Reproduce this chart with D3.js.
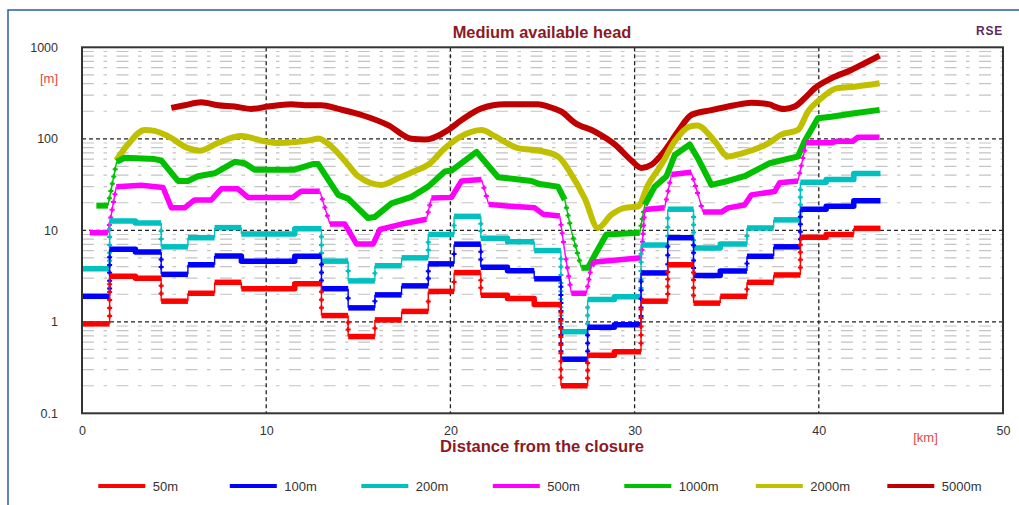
<!DOCTYPE html>
<html><head><meta charset="utf-8">
<script src="https://cdn.jsdelivr.net/npm/d3@7"></script>
<style>
body{margin:0;background:#fff;}
svg{display:block;font-family:"Liberation Sans",Arial,sans-serif;}
</style></head><body>
<svg id="c" width="1019" height="505"></svg>
<script>
// ---------------- DATA ----------------
const seriesNames = ["50m","100m","200m","500m","1000m","2000m","5000m"];
const seriesColors = ["#ff0000","#0000ff","#00c0c0","#ff00ff","#00c000","#c0c000","#c00000"];

// step series: segment edges (km) and one value per segment (m)
const stepEdges = [0,1.5,2.9,4.3,5.75,7.2,8.65,10.1,11.55,13.0,14.45,15.9,17.35,18.8,20.2,21.65,23.1,24.55,26.0,27.45,28.9,30.35,31.8,33.2,34.65,36.1,37.55,39.0,40.4,41.9,43.35];
const head50  = [0.95,3.15,3.0,1.68,2.05,2.7,2.3,2.3,2.6,1.17,0.69,1.05,1.3,2.15,3.45,1.95,1.8,1.55,0.2,0.43,0.47,1.68,4.2,1.6,1.9,2.7,3.25,8.4,9.0,10.5];
const head100 = [1.9,6.2,5.8,3.3,4.2,5.25,4.6,4.6,5.2,2.3,1.42,1.97,2.47,4.3,7.05,3.95,3.62,2.95,0.39,0.87,0.93,3.42,8.3,3.2,3.6,5.2,6.6,17.0,18.3,21.0];
const head200 = [3.8,12.6,12.0,6.6,8.3,10.7,9.1,9.1,10.4,4.6,2.8,4.1,5.0,9.0,14.2,8.2,7.5,6.0,0.78,1.75,1.88,6.9,17.0,6.4,7.1,10.6,13.0,33.6,36.0,41.7];

// smooth series: [km, m]
const head500 = [[0.42,9.4],[1.41,9.4],[1.86,30],[3.22,31],[4.4,29.4],[4.85,17.6],[5.57,17.6],[6.11,21.5],[7.02,21.5],[7.56,28.4],[8.46,28.4],[9.01,22.9],[11.45,22.9],[11.9,26.8],[12.91,26.8],[13.46,11.7],[14.27,11.7],[14.9,7.1],[15.81,7.1],[16.17,10.2],[17.35,11.7],[18.7,13.2],[18.97,22.5],[20.06,22.9],[20.6,34.6],[21.69,36],[22.08,19.2],[22.95,18.5],[24.58,17.6],[25.03,15],[25.94,14.3],[26.2,6],[26.57,2.05],[27.38,2.05],[27.66,4.1],[27.84,4.5],[30.37,5.0],[30.55,16.9],[31.63,17.6],[32.0,40.7],[33.08,43],[33.53,21.5],[33.71,15.8],[34.71,15.8],[35.07,17.6],[35.97,18.9],[36.34,24.4],[37.6,26.5],[37.87,33],[38.87,34.6],[39.32,90.4],[40.68,90.4],[40.95,94],[41.85,94],[42.12,104],[43.3,104]];
const head1000 = [[0.78,18.6],[1.41,18.6],[1.88,56],[2.32,62],[3.94,60],[4.3,58],[5.21,34.6],[5.75,34.6],[6.29,39],[7.2,42],[8.29,56],[8.83,54],[9.37,46],[11.54,46],[12.53,53],[12.82,53],[13.91,24.4],[14.45,22.2],[15.53,13.6],[15.9,14],[16.8,19.7],[17.89,23.2],[18.79,30],[19.7,44],[20.06,45],[21.42,72],[22.59,38],[24.4,34.6],[24.85,32],[25.84,30],[26.21,21.5],[26.57,9.8],[27.11,3.9],[27.47,3.9],[27.93,5.8],[28.47,9.0],[30.28,9.4],[30.55,18.9],[31.09,30],[31.73,39],[32.18,66.5],[32.99,86.6],[33.44,61],[34.17,31.3],[35.07,34.6],[35.97,39],[37.33,54],[37.96,58],[38.87,64],[39.23,94],[39.95,168],[40.68,174],[41.94,190],[43.3,207]];
const head2000 = [[1.86,58],[2.5,87],[3.4,125],[3.94,122],[4.67,107],[5.75,79],[6.39,74],[7.38,90],[8.64,107],[9.91,94],[10.63,90],[11.54,92],[12.53,98],[12.82,101],[13.55,82],[14.45,52],[14.99,39],[16.26,31.3],[17.16,37],[18.07,44.5],[18.79,52],[19.7,79],[20.6,107],[21.69,125],[22.41,107],[23.67,79],[24.85,74],[25.84,64],[26.57,40.7],[27.29,22.4],[28.01,10.6],[28.74,14.8],[29.46,17.6],[30.18,18.2],[30.73,31.3],[31.45,52],[32.18,94],[32.99,136],[33.4,140],[34.35,94],[35.07,64],[35.79,69],[37.33,91],[37.96,111],[38.87,125],[39.41,198],[40.14,277],[40.95,356],[41.94,371],[43.3,404]];
const head5000 = [[4.85,218],[5.57,233],[6.47,251],[7.38,233],[8.29,225],[9.19,212],[10.09,225],[11.36,238],[12.1,233],[13.0,233],[13.91,212],[15.18,182],[16.62,141],[17.89,100],[18.61,98],[19.88,125],[20.6,160],[21.69,215],[22.95,238],[24.76,238],[25.3,225],[26.03,198],[26.75,150],[27.84,120],[28.92,87],[29.83,58],[30.37,48],[30.91,52],[31.63,74],[32.35,120],[33.08,182],[34.17,206],[35.43,233],[36.34,248],[37.33,238],[37.6,225],[38.14,212],[38.69,225],[39.23,277],[39.77,356],[40.68,458],[41.76,565],[42.49,670],[43.3,810]];

const yTickValues = [0.1,1,10,100,1000];
const yTickLabels = ["0.1","1","10","100","1000"];
const xTickValues = [0,10,20,30,40,50];
const xTickLabels = ["0","10","20","30","40","50"];

// ---------------- CHART ----------------
const svg = d3.select("#c");
const L = 82, R = 1003, T = 47.3, B = 413.3;
const x = d3.scaleLinear().domain([0,50]).range([L,R]);
const y = d3.scaleLog().domain([0.1,1000]).range([B,T]);

// outer blue frame
svg.append("path").attr("d","M8,506 L8,10 L1020,10").attr("fill","none")
  .attr("stroke","#2a5ca8").attr("stroke-width",1.5);

// minor grid
const minor = [];
[0.1,1,10,100].forEach(d => { for (let k=2;k<=9;k++) minor.push(d*k); });
svg.append("g").selectAll("line").data(minor).join("line")
  .attr("x1",L).attr("x2",R).attr("y1",d=>y(d)).attr("y2",d=>y(d))
  .attr("stroke","#c4c4c4").attr("stroke-width",1.2)
  .attr("stroke-dasharray","12,9.5,3.5,9.5");

// major grid
svg.append("g").selectAll("line").data([1,10,100]).join("line")
  .attr("x1",L).attr("x2",R).attr("y1",d=>y(d)).attr("y2",d=>y(d))
  .attr("stroke","#222").attr("stroke-width",1.3).attr("stroke-dasharray","4,3");
svg.append("g").selectAll("line").data([10,20,30,40]).join("line")
  .attr("y1",T).attr("y2",B).attr("x1",d=>x(d)).attr("x2",d=>x(d))
  .attr("stroke","#222").attr("stroke-width",1.3).attr("stroke-dasharray","4,3");

// series drawing
const gSeries = svg.append("g");
function drawSeries(pts, color, width, curve) {
  const lineGen = d3.line().x(d=>x(d[0])).y(d=>y(d[1])).curve(curve || d3.curveLinear);
  const g = gSeries.append("g");
  let run = [pts[0]];
  const flush = () => {
    if (run.length > 1) g.append("path").attr("d", lineGen(run)).attr("fill","none")
      .attr("stroke",color).attr("stroke-width",width)
      .attr("stroke-linejoin","round").attr("stroke-linecap","butt");
  };
  for (let i=1;i<pts.length;i++) {
    const p0 = pts[i-1], p1 = pts[i];
    const dx = x(p1[0])-x(p0[0]), dy = y(p1[1])-y(p0[1]);
    const steep = Math.abs(dy) > 6 && Math.abs(dy) > 2.6*Math.abs(dx);
    if (steep) {
      flush(); run = [p1];
      g.append("line").attr("x1",x(p0[0])).attr("y1",y(p0[1]))
        .attr("x2",x(p1[0])).attr("y2",y(p1[1]))
        .attr("stroke",color).attr("stroke-width",1.4);
      const len = Math.hypot(dx,dy), n = Math.max(1, Math.round(len/8));
      for (let k=1;k<n;k++) {
        const px = x(p0[0]) + dx*k/n, py = y(p0[1]) + dy*k/n;
        g.append("path").attr("d",`M${px-2.5},${py}h5M${px},${py-2.5}v5`)
          .attr("stroke",color).attr("stroke-width",2).attr("fill","none");
      }
    } else run.push(p1);
  }
  flush();
}
function stepPoints(vals) {
  const pts = [];
  vals.forEach((v,i) => { pts.push([stepEdges[i],v]); pts.push([stepEdges[i+1],v]); });
  return pts;
}
drawSeries(head5000, seriesColors[6], 6, d3.curveMonotoneX);
drawSeries(head2000, seriesColors[5], 6, d3.curveMonotoneX);
drawSeries(head1000, seriesColors[4], 6);
drawSeries(head500,  seriesColors[3], 5.5);
drawSeries(stepPoints(head200), seriesColors[2], 5.5);
drawSeries(stepPoints(head100), seriesColors[1], 5.5);
drawSeries(stepPoints(head50),  seriesColors[0], 5.5);

// plot frame
svg.append("rect").attr("x",L).attr("y",T).attr("width",R-L).attr("height",B-T)
  .attr("fill","none").attr("stroke","#333").attr("stroke-width",2);

// axes
const yAxis = d3.axisLeft(y).tickValues(yTickValues)
  .tickFormat((d,i)=>yTickLabels[i]).tickSize(0).tickPadding(24);
const gy = svg.append("g").attr("transform",`translate(${L},0)`).call(yAxis);
const xAxis = d3.axisBottom(x).tickValues(xTickValues)
  .tickFormat((d,i)=>xTickLabels[i]).tickSize(0).tickPadding(13);
const gx = svg.append("g").attr("transform",`translate(0,${B})`).call(xAxis);
[gx,gy].forEach(g => {
  g.select(".domain").remove();
  g.selectAll("text").attr("font-size",12.5).attr("fill","#333")
    .attr("font-family","'Liberation Sans',Arial,sans-serif");
});

// texts
svg.append("text").attr("x",542).attr("y",38).attr("text-anchor","middle")
  .attr("font-size",16.4).attr("font-weight","bold").attr("fill","#8b1a24")
  .text("Medium available head");
svg.append("text").attr("x",1003).attr("y",35).attr("text-anchor","end")
  .attr("font-size",12).attr("font-weight","bold").attr("fill","#5a2a5e")
  .attr("letter-spacing",0.8).text("RSE");
svg.append("text").attr("x",58).attr("y",83).attr("text-anchor","end")
  .attr("font-size",13).attr("fill","#e04848").text("[m]");
svg.append("text").attr("x",925.5).attr("y",442).attr("text-anchor","middle")
  .attr("font-size",13).attr("fill","#e04848").text("[km]");
svg.append("text").attr("x",542).attr("y",452).attr("text-anchor","middle")
  .attr("font-size",16.6).attr("font-weight","bold").attr("fill","#8b1a24")
  .text("Distance from the closure");

// legend
const lg = svg.append("g").selectAll("g").data(seriesNames).join("g")
  .attr("transform",(d,i)=>`translate(${98.3+i*131.5},486)`);
lg.append("line").attr("x1",0).attr("x2",47).attr("y1",0).attr("y2",0)
  .attr("stroke",(d,i)=>seriesColors[i]).attr("stroke-width",4);
lg.append("text").attr("x",54.5).attr("y",4.5).attr("font-size",13)
  .attr("fill","#333").text(d=>d);
</script>
</body></html>
